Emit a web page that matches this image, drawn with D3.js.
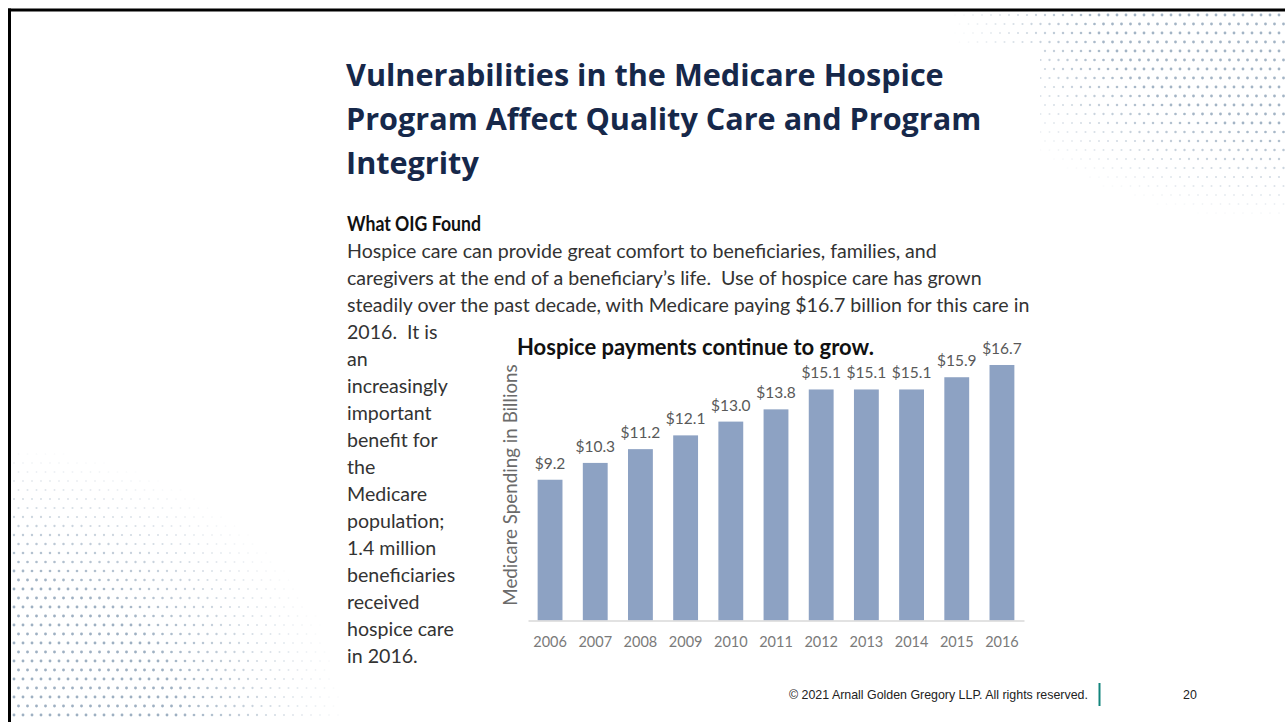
<!DOCTYPE html>
<html>
<head>
<meta charset="utf-8">
<script src="https://cdn.jsdelivr.net/npm/d3@7"></script>
<style>
  html, body { margin: 0; padding: 0; background: #fff; }
  svg { display: block; }
</style>
</head>
<body>
<svg id="slide" width="1285" height="722"></svg>
<script>
// chart data
const years = ["2006", "2007", "2008", "2009", "2010", "2011", "2012", "2013", "2014", "2015", "2016"];
const payments = [9.2, 10.3, 11.2, 12.1, 13.0, 13.8, 15.1, 15.1, 15.1, 15.9, 16.7];

// slide text
const titleLines = [
    "Vulnerabilities in the Medicare Hospice",
    "Program Affect Quality Care and Program",
    "Integrity"
];
const bodyLines = [
    "Hospice care can provide great comfort to beneficiaries, families, and",
    "caregivers at the end of a beneficiary\u2019s life.  Use of hospice care has grown",
    "steadily over the past decade, with Medicare paying $16.7 billion for this care in",
    "2016.  It is",
    "an",
    "increasingly",
    "important",
    "benefit for",
    "the",
    "Medicare",
    "population;",
    "1.4 million",
    "beneficiaries",
    "received",
    "hospice care",
    "in 2016."
];

const svg = d3.select("#slide");
const W = 1285, H = 722;

// decorative dot fields (top right + bottom left)
const deco = svg.append("g").attr("class", "dots");
function dotField(x0, x1, y0, y1, step, alphaFn) {
    const pts = [];
    for (let y = y0; y <= y1; y += step) {
        const shift = ((y - y0) / step) % 2 ? step / 2 : 0;
        for (let x = x0 + shift; x <= x1; x += step) {
            const a = alphaFn(x, y);
            if (a > 0.04) pts.push({x, y, a});
        }
    }
    deco.append("g").selectAll("circle")
        .data(pts)
        .enter().append("circle")
        .attr("cx", d => d.x)
        .attr("cy", d => d.y)
        .attr("r", d => 0.8 + 0.7 * d.a)
        .attr("fill", "#93a7bb")
        .attr("opacity", d => Math.min(1, d.a));
}
dotField(955, 1285, 15, 215, 9, (x, y) => {
    const dx = (1285 - x) / 340, dy = (y - 10) / 215;
    return Math.min(1, (1 - Math.sqrt(dx * dx + dy * dy)) * 2.2) * 0.85;
});
dotField(14, 340, 445, 722, 9, (x, y) => {
    const dx = x / 350, dy = (722 - y) / 280;
    return Math.min(1, (1 - Math.sqrt(dx * dx + dy * dy)) * 2.0) * 0.9;
});

// white panel of the embedded report page
svg.append("rect")
    .attr("x", 330).attr("y", 45)
    .attr("width", 710).attr("height", 640)
    .attr("fill", "#fff");

// frame lines
svg.append("line").attr("x1", 8).attr("x2", W).attr("y1", 10).attr("y2", 10)
    .attr("stroke", "#000").attr("stroke-width", 3);
svg.append("line").attr("x1", 9.5).attr("x2", 9.5).attr("y1", 8.5).attr("y2", H)
    .attr("stroke", "#000").attr("stroke-width", 3);

// title
svg.append("g").selectAll("text")
    .data(titleLines)
    .enter().append("text")
    .attr("x", 346)
    .attr("y", (d, i) => 86 + i * 44)
    .attr("font-family", "'Open Sans', sans-serif")
    .attr("font-weight", 700)
    .attr("font-size", 30.6)
    .attr("fill", "#16284a")
    .text(d => d);

svg.append("text")
    .attr("x", 347).attr("y", 231)
    .attr("font-family", "Lato, sans-serif")
    .attr("font-weight", 700)
    .attr("font-size", 21)
    .attr("textLength", 134)
    .attr("lengthAdjust", "spacingAndGlyphs")
    .attr("fill", "#111")
    .text("What OIG Found");

svg.append("g").selectAll("text")
    .data(bodyLines)
    .enter().append("text")
    .attr("x", 347)
    .attr("y", (d, i) => 258 + i * 27)
    .attr("font-family", "Lato, sans-serif")
    .attr("font-size", 19.6)
    .attr("fill", "#333")
    .style("white-space", "pre")
    .text(d => d);

// bar chart
const baseY = 620.5;
const x = d3.scaleBand()
    .domain(years)
    .range([528, 1024])
    .paddingInner(0.45)
    .paddingOuter(0.213);

const y = d3.scaleLinear()
    .domain([0, 18])
    .range([baseY, baseY - 18 * 15.3]);

const chart = svg.append("g").attr("class", "chart");

chart.selectAll("rect.bar")
    .data(payments)
    .enter().append("rect")
    .attr("class", "bar")
    .attr("x", (d, i) => x(years[i]))
    .attr("y", d => y(d))
    .attr("width", x.bandwidth())
    .attr("height", d => y(0) - y(d))
    .attr("fill", "#8da2c3");

chart.selectAll("text.val")
    .data(payments)
    .enter().append("text")
    .attr("class", "val")
    .attr("x", (d, i) => x(years[i]) + x.bandwidth() / 2)
    .attr("y", d => y(d) - 11)
    .attr("text-anchor", "middle")
    .attr("font-family", "Lato, sans-serif")
    .attr("font-size", 15.5)
    .attr("fill", "#595959")
    .text(d => "$" + d.toFixed(1));

const xAxis = chart.append("g")
    .attr("transform", `translate(0,${baseY})`)
    .call(d3.axisBottom(x).tickSize(0).tickSizeOuter(0).tickPadding(16));
xAxis.select(".domain").attr("stroke", "#d9d9d9").attr("stroke-width", 1.5);
xAxis.selectAll(".tick text")
    .attr("font-family", "Lato, sans-serif")
    .attr("font-size", 14.5)
    .attr("fill", "#7a7a7a");

chart.append("text")
    .attr("transform", "translate(517,485) rotate(-90)")
    .attr("text-anchor", "middle")
    .attr("font-family", "Lato, sans-serif")
    .attr("font-size", 18.8)
    .attr("fill", "#6b6b6b")
    .text("Medicare Spending in Billions");

chart.append("text")
    .attr("x", 517).attr("y", 355)
    .attr("font-family", "Lato, sans-serif")
    .attr("font-weight", 700)
    .attr("font-size", 22)
    .attr("fill", "#111")
    .text("Hospice payments continue to grow.");

// footer
svg.append("text")
    .attr("x", 789).attr("y", 699)
    .attr("font-family", "'Liberation Sans', Arial, sans-serif")
    .attr("font-size", 12.4)
    .attr("fill", "#222")
    .text("\u00a9 2021 Arnall Golden Gregory LLP. All rights reserved.");
svg.append("line")
    .attr("x1", 1099.5).attr("x2", 1099.5).attr("y1", 683).attr("y2", 706)
    .attr("stroke", "#13857c").attr("stroke-width", 2);
svg.append("text")
    .attr("x", 1183).attr("y", 699)
    .attr("font-family", "'Liberation Sans', Arial, sans-serif")
    .attr("font-size", 12.4)
    .attr("fill", "#222")
    .text("20");
</script>
</body>
</html>
